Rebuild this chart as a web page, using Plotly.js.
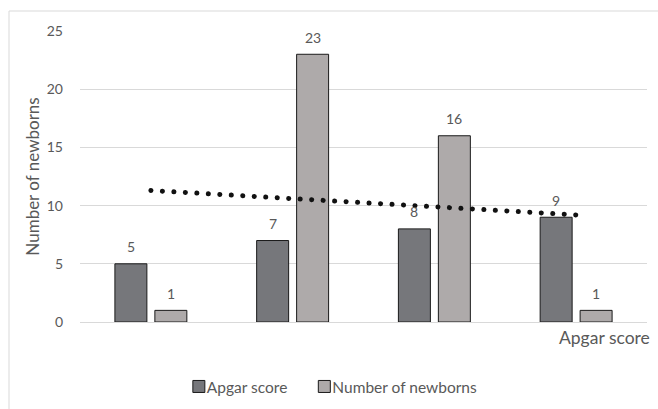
<!DOCTYPE html>
<html>
<head>
<meta charset="utf-8">
<script src="https://cdn.plot.ly/plotly-3.0.1.min.js"></script>
<style>
  html, body { margin: 0; padding: 0; background: #fff; }
  #chart { width: 658px; height: 409px; }
  /* round caps turn the dotted trendline into round dots */
  .scatterlayer .js-line { stroke-linecap: round; }
  /* pull legend labels closer to their swatches */
  .legend .legendtext { transform: translateX(-12px); }
</style>
</head>
<body>
<div id="chart"></div>
<script>
// Four groups along the x axis (no tick labels shown)
const categories = ["1", "2", "3", "4"];
const apgarScore = [5, 7, 8, 9];
const newborns = [1, 23, 16, 1];
const yTicks = [0, 5, 10, 15, 20, 25];

// Linear trendline fitted to the newborn counts
function linearTrend(ys) {
  const n = ys.length;
  const xs = ys.map((_, i) => i + 1);
  const mx = xs.reduce((a, b) => a + b, 0) / n;
  const my = ys.reduce((a, b) => a + b, 0) / n;
  let sxy = 0, sxx = 0;
  xs.forEach((x, i) => { sxy += (x - mx) * (ys[i] - my); sxx += (x - mx) * (x - mx); });
  const slope = sxy / sxx;
  return xs.map(x => my + slope * (x - mx));
}
const trend = linearTrend(newborns);

const FONT = "Lato, 'Open Sans', sans-serif";
const TEXT_GRAY = "#595959";

const traces = [
  {
    type: "bar", name: "Apgar score", x: categories, y: apgarScore,
    marker: { color: "#76777b", line: { color: "#1a1a1a", width: 1 } },
    hoverinfo: "skip"
  },
  {
    type: "bar", name: "Number of newborns", x: categories, y: newborns,
    marker: { color: "#aeaaaa", line: { color: "#1a1a1a", width: 1 } },
    hoverinfo: "skip"
  },
  {
    type: "scatter", mode: "lines", x: categories, y: trend,
    line: { color: "#111", width: 5, dash: "0.1px,11.4px" },
    showlegend: false, hoverinfo: "skip"
  }
];

// Value labels above each bar, from the same arrays
const annotations = [];
categories.forEach((c, i) => {
  annotations.push({ x: i, y: apgarScore[i], xref: "x", yref: "y", text: String(apgarScore[i]),
    showarrow: false, xshift: -20, yshift: 17, font: { family: FONT, size: 14, color: TEXT_GRAY } });
  annotations.push({ x: i, y: newborns[i], xref: "x", yref: "y", text: String(newborns[i]),
    showarrow: false, xshift: 20, yshift: 17, font: { family: FONT, size: 14, color: TEXT_GRAY } });
});
// x axis title sits at the right end, under the axis line
annotations.push({ x: 1, y: 0, xref: "paper", yref: "paper", xanchor: "right", yanchor: "middle",
  xshift: 5, yshift: -15, text: "Apgar score", showarrow: false,
  font: { family: FONT, size: 17.5, color: TEXT_GRAY } });

const layout = {
  width: 658, height: 409,
  margin: { l: 80, r: 11, t: 31, b: 87, pad: 0, autoexpand: false },
  paper_bgcolor: "#fff", plot_bgcolor: "#fff",
  font: { family: FONT, color: TEXT_GRAY, size: 14 },
  barmode: "group", bargap: 0.436, bargroupgap: 0.2,
  showlegend: true,
  legend: {
    orientation: "h", x: 0.453, xanchor: "center", y: -0.223, yanchor: "middle",
    font: { family: FONT, size: 15.5, color: TEXT_GRAY }, itemwidth: 30, traceorder: "normal"
  },
  xaxis: {
    type: "category", showticklabels: false, ticks: "", showgrid: false,
    showline: false, zeroline: false, fixedrange: true
  },
  yaxis: {
    range: [0, 25], tickvals: yTicks, ticks: "", showline: false,
    gridcolor: "#d9d9d9", gridwidth: 1, zeroline: true, zerolinecolor: "#d9d9d9", zerolinewidth: 1,
    tickfont: { family: FONT, size: 14, color: TEXT_GRAY }, ticklabelstandoff: 16,
    title: { text: "Number of newborns", font: { family: FONT, size: 17, color: TEXT_GRAY }, standoff: 2 },
    fixedrange: true
  },
  shapes: [{
    type: "rect", xref: "paper", yref: "paper",
    x0: -0.1252, x1: 1.1, y0: -0.4, y1: 1.0687,
    line: { color: "#d9d9d9", width: 1 }, fillcolor: "rgba(0,0,0,0)", layer: "below"
  }],
  annotations: annotations
};

Plotly.newPlot("chart", traces, layout, { displayModeBar: false, staticPlot: true });
</script>
</body>
</html>
